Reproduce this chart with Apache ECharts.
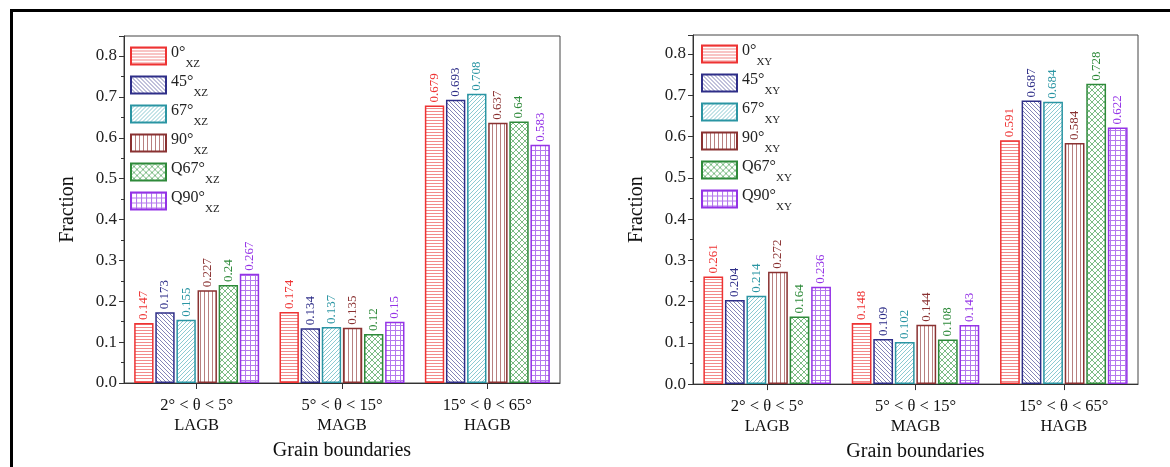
<!DOCTYPE html>
<html><head><meta charset="utf-8">
<script src="https://cdn.jsdelivr.net/npm/echarts@6/dist/echarts.min.js"></script>
<style>html,body{margin:0;padding:0;background:#fff}#c{width:1170px;height:467px}</style>
</head><body><div id="c"></div>
<script>
// ---------- data ----------
const categories = ['2° < θ < 5°\nLAGB', '5° < θ < 15°\nMAGB', '15° < θ < 65°\nHAGB'];
const angles = ['0°', '45°', '67°', '90°', 'Q67°', 'Q90°'];
const yTickLabels = ['0.0', '0.1', '0.2', '0.3', '0.4', '0.5', '0.6', '0.7', '0.8'];

// XZ plane (left panel)
const xz0   = [0.147, 0.174, 0.679];
const xz45  = [0.173, 0.134, 0.693];
const xz67  = [0.155, 0.137, 0.708];
const xz90  = [0.227, 0.135, 0.637];
const xzQ67 = [0.24, 0.12, 0.64];
const xzQ90 = [0.267, 0.15, 0.583];

// XY plane (right panel)
const xy0   = [0.261, 0.148, 0.591];
const xy45  = [0.204, 0.109, 0.687];
const xy67  = [0.214, 0.102, 0.684];
const xy90  = [0.272, 0.144, 0.584];
const xyQ67 = [0.164, 0.108, 0.728];
const xyQ90 = [0.236, 0.143, 0.622];

const xzData = [xz0, xz45, xz67, xz90, xzQ67, xzQ90];
const xyData = [xy0, xy45, xy67, xy90, xyQ67, xyQ90];

// ---------- styles ----------
const FONT = "'Liberation Serif','Times New Roman',serif";
const colors = ['#ee3333', '#2e2e88', '#2a95a3', '#8a3232', '#2e8a3a', '#9433e6'];
const hatchColors = ['#f28a8a', '#8484b8', '#8ccad2', '#b88080', '#7cbc84', '#b578ee'];
const kinds = ['h', 'bs', 'fs', 'v', 'cross', 'grid'];

function makePattern(kind, color) {
  const s = {h: 3, v: 4, bs: 4, fs: 4, cross: 6, grid: 5}[kind];
  const c = document.createElement('canvas');
  c.width = s; c.height = s;
  const g = c.getContext('2d');
  g.fillStyle = '#fff'; g.fillRect(0, 0, s, s);
  g.strokeStyle = color; g.lineWidth = 1;
  g.beginPath();
  if (kind === 'h' || kind === 'grid') { g.moveTo(0, 0.5); g.lineTo(s, 0.5); }
  if (kind === 'v' || kind === 'grid') { g.moveTo(0.5, 0); g.lineTo(0.5, s); }
  if (kind === 'bs' || kind === 'cross') {
    for (let k = -1; k <= 1; k++) { g.moveTo(k * s, 0); g.lineTo(k * s + s, s); }
  }
  if (kind === 'fs' || kind === 'cross') {
    for (let k = -1; k <= 1; k++) { g.moveTo(k * s, s); g.lineTo(k * s + s, 0); }
  }
  g.stroke();
  return c;
}
const patterns = kinds.map((k, i) => makePattern(k, hatchColors[i]));

function buildSeries(dataSets, suffix, idx) {
  return dataSets.map((d, i) => ({
    name: angles[i] + '_' + suffix,
    type: 'bar',
    xAxisIndex: idx, yAxisIndex: idx,
    data: d,
    barCategoryGap: '14%',
    barGap: '9%',
    itemStyle: {
      color: {image: patterns[i], repeat: 'repeat'},
      borderColor: colors[i], borderWidth: 1.5
    },
    label: {
      show: true, position: 'top', rotate: 90, align: 'left', verticalAlign: 'middle',
      distance: 3, color: colors[i], fontFamily: FONT, fontSize: 13
    },
    emphasis: {disabled: true}
  }));
}

function xAxis(idx) {
  return {
    type: 'category', gridIndex: idx, data: categories,
    name: 'Grain boundaries', nameLocation: 'middle', nameGap: 54,
    nameTextStyle: {fontFamily: FONT, fontSize: 20, color: '#111'},
    axisLine: {lineStyle: {color: '#333', width: 1}},
    axisTick: {show: true, alignWithLabel: true, length: 6, lineStyle: {color: '#333'}},
    axisLabel: {fontFamily: FONT, fontSize: 16.5, color: '#111', lineHeight: 20, margin: 13}
  };
}
function yAxis(idx, max) {
  return {
    type: 'value', gridIndex: idx, min: 0, max: max, interval: 0.1,
    name: 'Fraction', nameLocation: 'middle', nameGap: 46,
    nameTextStyle: {fontFamily: FONT, fontSize: 20, color: '#111'},
    axisLine: {show: true, lineStyle: {color: '#333', width: 1}},
    axisTick: {show: true, length: 5, lineStyle: {color: '#333'}},
    minorTick: {show: true, splitNumber: 2, length: 3, lineStyle: {color: '#333'}},
    splitLine: {show: false},
    axisLabel: {
      showMaxLabel: false, fontFamily: FONT, fontSize: 17, color: '#222', margin: 7,
      formatter: v => yTickLabels[Math.round(v * 10)] || ''
    }
  };
}
function legend(idx, left, top, suffix) {
  return {
    orient: 'vertical', left: left, top: top, padding: 0,
    itemWidth: 35, itemHeight: 17, itemGap: 1,
    icon: 'rect',
    data: angles.map(a => a + '_' + suffix),
    formatter: name => { const p = name.split('_'); return '{n|' + p[0] + '}{s|' + p[1] + '}'; },
    textStyle: {
      rich: {
        n: {fontFamily: FONT, fontSize: 16, color: '#222', lineHeight: 17, padding: [0, 0, 6, 0]},
        s: {fontFamily: FONT, fontSize: 11, color: '#222', lineHeight: 6, padding: [17, 0, 0, 0]}
      }
    },
    selectedMode: false
  };
}

const chart = echarts.init(document.getElementById('c'), null, {renderer: 'canvas'});
chart.setOption({
  animation: false,
  backgroundColor: '#fff',
  grid: [
    {left: 124, top: 36, width: 436, height: 347, show: true, borderColor: '#444', borderWidth: 1},
    {left: 693, top: 35, width: 445, height: 352, show: true, borderColor: '#444', borderWidth: 1}
  ],
  xAxis: [xAxis(0), xAxis(1)],
  yAxis: [yAxis(0, 0.849), yAxis(1, 0.846)],
  legend: [legend(0, 130, 42, 'XZ'), legend(1, 701, 40, 'XY')],
  series: buildSeries(xzData, 'XZ', 0).concat(buildSeries(xyData, 'XY', 1)),
  graphic: [{
    type: 'rect', silent: true, z: 100,
    shape: {x: 11.5, y: 10.5, width: 1300, height: 600},
    style: {fill: null, stroke: '#000', lineWidth: 3}
  }]
});
</script></body></html>
